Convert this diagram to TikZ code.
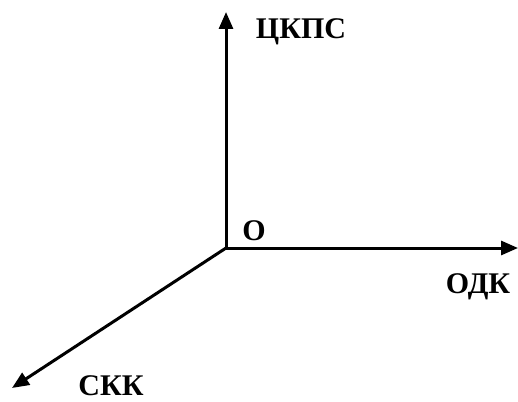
\documentclass[tikz,border=0pt]{standalone}
\usepackage{fontspec}
\setmainfont{Liberation Serif}
\usetikzlibrary{arrows.meta}
\begin{document}
\begin{tikzpicture}[x=1pt,y=-1pt,
  axis/.style={line width=3pt,-{Triangle[length=17pt,width=14pt]}},
  lbl/.style={font=\bfseries\fontsize{30}{34}\selectfont,inner sep=0pt}]
\useasboundingbox (0,0) rectangle (518,401);
\coordinate (O) at (226,248);
\coordinate (Z) at (226,12);
\coordinate (X) at (518,248);
\coordinate (Y) at (12,388);
\draw[axis] (O) -- (Z);
\draw[axis] (O) -- (X);
\draw[axis] (O) -- (Y);
\node[lbl] (lz) at (301,32) {ЦКПС};
\node[lbl] (lo) at (254,231) {О};
\node[lbl] (lx) at (478,287) {ОДК};
\node[lbl] (ly) at (111,386) {СКК};
\end{tikzpicture}
\end{document}
